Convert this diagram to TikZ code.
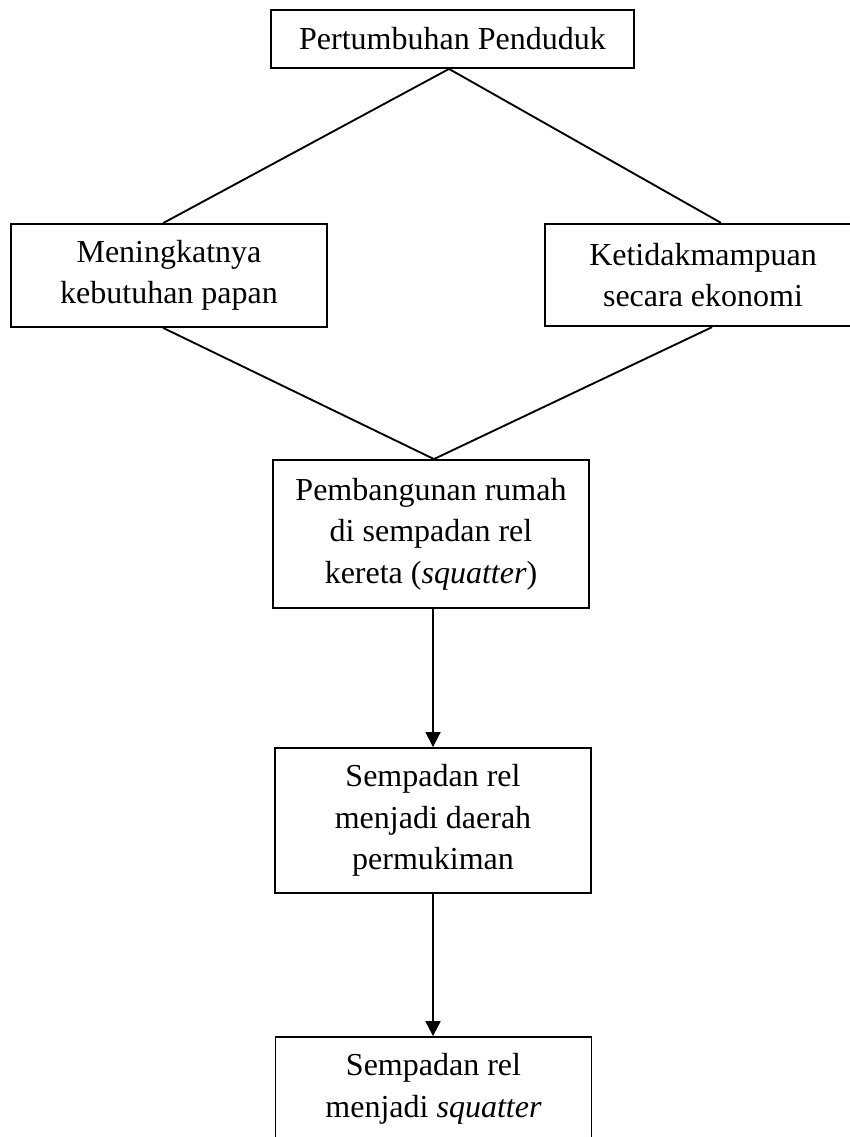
\documentclass[tikz,border=0pt]{standalone}
\usepackage{fontspec}
\setmainfont{Liberation Serif}
\usepackage{tikz}
\usetikzlibrary{
	arrows.meta,
	calc,
	positioning,
	}

\begin{document}
\begin{tikzpicture}[x=0.375pt, y=-0.375pt, line width=0.7pt,
		box/.style={draw, rectangle, align=center, inner sep=0pt, minimum width=118.5pt,
			font=\fontsize{12}{15.6}\selectfont},
		arr/.style={-{Triangle[width=5.6pt,length=5.6pt]}}]
			\useasboundingbox (0,0) rectangle (849,1137);

			\node[box, minimum width=136.1pt, minimum height=21.75pt] (pertumbuhan) at (452.5,39) {Pertumbuhan Penduduk};
			\node[box, minimum height=38.6pt] (papan) at (169,275.5) {Meningkatnya\\kebutuhan papan};
			\node[box, minimum height=38.4pt] (ekonomi) at (703,275) {Ketidakmampuan\\secara ekonomi};
			\node[box, minimum height=55.5pt] (rumah) at (431,534) {Pembangunan rumah\\di sempadan rel\\kereta (\textit{squatter})};
			\node[box, minimum height=54.4pt] (permukiman) at (433,820.5) {Sempadan rel\\menjadi daerah\\permukiman};
			\node[box, minimum height=38.6pt] (squatter) at (433.5,1088.5) {Sempadan rel\\menjadi \textit{squatter}};

			\draw ([xshift=-1.3pt]pertumbuhan.south) -- ([xshift=-2.2pt]papan.north);
			\draw ([xshift=-1.3pt]pertumbuhan.south) -- ([xshift=6.75pt]ekonomi.north);
			\draw ([xshift=-2.2pt]papan.south) -- ([xshift=1.1pt]rumah.north);
			\draw ([xshift=3.4pt]ekonomi.south) -- ([xshift=1.1pt]rumah.north);
			\draw[arr] (permukiman.north |- rumah.south) -- (permukiman.north);
			\draw[arr] (permukiman.south) -- (squatter.north -| permukiman.south);

		\end{tikzpicture}
\end{document}
